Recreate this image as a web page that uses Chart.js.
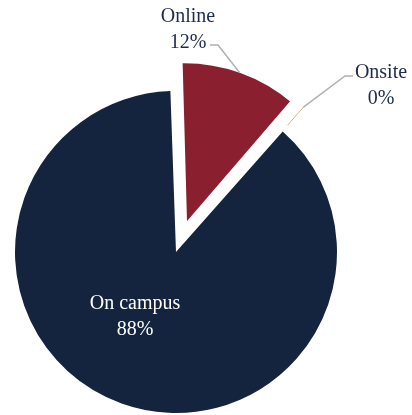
<!DOCTYPE html>
<html>
<head>
<meta charset="utf-8">
<script src="https://cdn.jsdelivr.net/npm/chart.js@4/dist/chart.umd.min.js"></script>
<style>
  html, body { margin: 0; padding: 0; background: #ffffff; }
  #wrap { width: 412px; height: 415px; }
</style>
</head>
<body>
<div id="wrap"><canvas id="pie" width="412" height="415"></canvas></div>
<script>
// data
const categories = ['Online', 'Onsite', 'On campus'];
const shares = [12, 0.1, 88];
const sliceColors = ['#8a1f30', '#c8a36a', '#14243f'];

const total = shares.reduce((a, b) => a + b, 0);
const pctText = shares.map(v => Math.round(v / total * 100) + '%');

// label layout (text centre x, first baseline, leader elbow, leader end)
const labelLayout = [
    { x: 188, y: 22, color: '#1c2b4b', elbow: [218, 45], end: [210, 45] },
    { x: 381, y: 78, color: '#1c2b4b', elbow: [345, 76], end: [353, 76] },
    { x: 135, y: 309, color: '#ffffff' }
];

const labelPlugin = {
    id: 'sliceLabels',
    afterDatasetsDraw(chart) {
        const ctx = chart.ctx;
        const meta = chart.getDatasetMeta(0);
        ctx.save();
        meta.data.forEach((arc, i) => {
            const lay = labelLayout[i];
            if (lay.elbow) {
                // point on the outer edge of the exploded slice
                const p = arc.getProps(['x', 'y', 'startAngle', 'endAngle', 'outerRadius']);
                const mid = (p.startAngle + p.endAngle) / 2;
                const circ = p.endAngle - p.startAngle;
                const off = (arc.options.offset || 0) / 4;
                const fix = 1 - Math.sin(Math.min(Math.PI, circ));
                const r = p.outerRadius + off * (1 + fix) - (arc.options.borderWidth || 0) / 2;
                const sx = p.x + Math.cos(mid) * r;
                const sy = p.y + Math.sin(mid) * r;
                ctx.beginPath();
                ctx.strokeStyle = '#b0b0b0';
                ctx.lineWidth = 1.5;
                ctx.moveTo(sx, sy);
                ctx.lineTo(lay.elbow[0], lay.elbow[1]);
                ctx.lineTo(lay.end[0], lay.end[1]);
                ctx.stroke();
            }
            ctx.fillStyle = lay.color;
            ctx.font = '20px "Liberation Serif", "DejaVu Serif", serif';
            ctx.textAlign = 'center';
            ctx.textBaseline = 'alphabetic';
            ctx.fillText(categories[i], lay.x, lay.y);
            ctx.fillText(pctText[i], lay.x, lay.y + 26);
        });
        ctx.restore();
    }
};

new Chart(document.getElementById('pie'), {
    type: 'pie',
    data: {
        labels: categories,
        datasets: [{
            data: shares,
            backgroundColor: sliceColors,
            borderColor: ['#ffffff', '#c8a36a', '#14243f'],
            borderWidth: [6, 0.8, 0],
            borderAlign: 'center',
            borderDash: (c) => c.dataIndex === 1 ? [24, 1000] : [],
            offset: [98, 64, 0]
        }]
    },
    options: {
        responsive: false,
        animation: false,
        rotation: -2,
        radius: 161,
        layout: { padding: { left: 0, right: 60, top: 89, bottom: 0 } },
        plugins: {
            legend: { display: false },
            tooltip: { enabled: false }
        }
    },
    plugins: [labelPlugin]
});
</script>
</body>
</html>
